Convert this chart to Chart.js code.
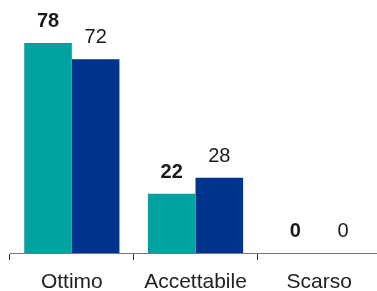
<!DOCTYPE html>
<html>
<head>
<meta charset="utf-8">
<script src="https://cdn.jsdelivr.net/npm/chart.js@4/dist/chart.umd.min.js"></script>
<style>
  html, body { margin: 0; padding: 0; background: #fff; overflow: hidden; }
  #wrap { width: 381px; height: 291px; }
</style>
</head>
<body>
<div id="wrap"><canvas id="chart" width="381" height="291"></canvas></div>
<script>
const categories = ['Ottimo', 'Accettabile', 'Scarso'];
const seriesOne = [78, 22, 0];
const seriesTwo = [72, 28, 0];
const colorOne = '#00A3A0';
const colorTwo = '#00338D';
const fontFamily = '"Liberation Sans", Arial, sans-serif';

// draws the value above every bar, first series in bold
const valueLabels = {
    id: 'valueLabels',
    afterDatasetsDraw(chart) {
        const ctx = chart.ctx;
        ctx.save();
        ctx.fillStyle = '#1a1a1a';
        ctx.textAlign = 'center';
        ctx.textBaseline = 'alphabetic';
        chart.data.datasets.forEach(function (ds, i) {
            const meta = chart.getDatasetMeta(i);
            ctx.font = (i === 0 ? 'bold ' : '') + '20px ' + fontFamily;
            meta.data.forEach(function (bar, j) {
                ctx.fillText(String(ds.data[j]), bar.x, bar.y - 16);
            });
        });
        ctx.restore();
    }
};

var ctx = document.getElementById('chart').getContext('2d');
var myChart = new Chart(ctx, {
    type: 'bar',
    data: {
        labels: categories,
        datasets: [{
            data: seriesOne,
            backgroundColor: colorOne,
            borderWidth: 0
        }, {
            data: seriesTwo,
            backgroundColor: colorTwo,
            borderWidth: 0
        }]
    },
    options: {
        responsive: false,
        maintainAspectRatio: false,
        animation: false,
        layout: { padding: { left: 10, right: 0, top: 0, bottom: 0 } },
        plugins: {
            legend: { display: false },
            tooltip: { enabled: false }
        },
        scales: {
            x: {
                grid: {
                    offset: true,
                    drawOnChartArea: false,
                    drawTicks: true,
                    tickLength: 7,
                    color: '#333'
                },
                border: { display: true, color: '#777', width: 1 },
                ticks: {
                    color: '#222',
                    padding: 10,
                    font: { family: fontFamily, size: 21 }
                },
                afterFit: function (scale) { scale.height = 38; }
            },
            y: {
                display: false,
                min: 0,
                max: 94
            }
        },
        datasets: {
            bar: { categoryPercentage: 0.77, barPercentage: 1 }
        }
    },
    plugins: [valueLabels]
});
</script>
</body>
</html>
